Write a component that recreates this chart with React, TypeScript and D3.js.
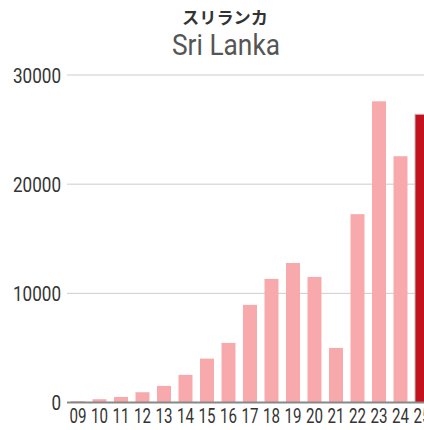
import React from "react";
import * as d3 from "d3";

const categories = ["09","10","11","12","13","14","15","16","17","18","19","20","21","22","23","24","25"];
const values = [120, 300, 510, 940, 1520, 2530, 4020, 5460, 8940, 11320, 12780, 11500, 5000, 17250, 27590, 22560, 26400];
const yTicks = [0, 10000, 20000, 30000];
const titleJa = "スリランカ";
const titleEn = "Sri Lanka";

const W = 424, H = 430;
const FONT = "Roboto, 'Liberation Sans', sans-serif";

export default function App() {
  const x = d3.scaleBand<string>().domain(categories).range([67.24, 67.24 + 21.5 * categories.length]).paddingInner(0.35).paddingOuter(0.175);
  const y = d3.scaleLinear().domain([0, 30000]).range([402.5, 75]);
  const last = categories.length - 1;
  return (
    <svg width={W} height={H} style={{ position: "absolute", left: 0, top: 0 }}>
      <rect width={W} height={H} fill="#fff" />
      <text x={225} y={24} textAnchor="middle" fontFamily="'Noto Sans CJK JP', sans-serif" fontWeight="bold" fontSize={16.5} fill="#333"
        textLength={86} lengthAdjust="spacingAndGlyphs">{titleJa}</text>
      <text x={226} y={55} textAnchor="middle" fontFamily={FONT} fontSize={29} fill="#555"
        textLength={108} lengthAdjust="spacingAndGlyphs">{titleEn}</text>
      {yTicks.filter(t => t > 0).map(t => (
        <line key={t} x1={67} x2={W} y1={y(t)} y2={y(t)} stroke="#ccc" strokeWidth={1} />
      ))}
      {yTicks.map(t => (
        <text key={"l" + t} x={61} y={y(t)} dy="0.36em" textAnchor="end" fontFamily={FONT} fontSize={21} fill="#333"
          textLength={String(t).length * 9.6} lengthAdjust="spacingAndGlyphs">{t}</text>
      ))}
      {categories.map((c, i) => {
        const bx = x(c)!;
        const by = y(values[i]);
        const isLast = i === last;
        return (
          <rect key={c} x={bx} y={by} width={x.bandwidth()} height={y(0) - by}
            fill={isLast ? "#c3121d" : "#f7a9ac"}
            stroke={isLast ? "#bbb" : "none"} strokeWidth={isLast ? 1 : 0} />
        );
      })}
      <line x1={67} x2={W} y1={y(0)} y2={y(0)} stroke="#888" strokeWidth={2} />
      {categories.map(c => (
        <text key={"x" + c} x={x(c)! + x.bandwidth() / 2} y={422.7} textAnchor="middle" fontFamily={FONT} fontSize={21} fill="#333"
          textLength={17} lengthAdjust="spacingAndGlyphs">{c}</text>
      ))}
    </svg>
  );
}
